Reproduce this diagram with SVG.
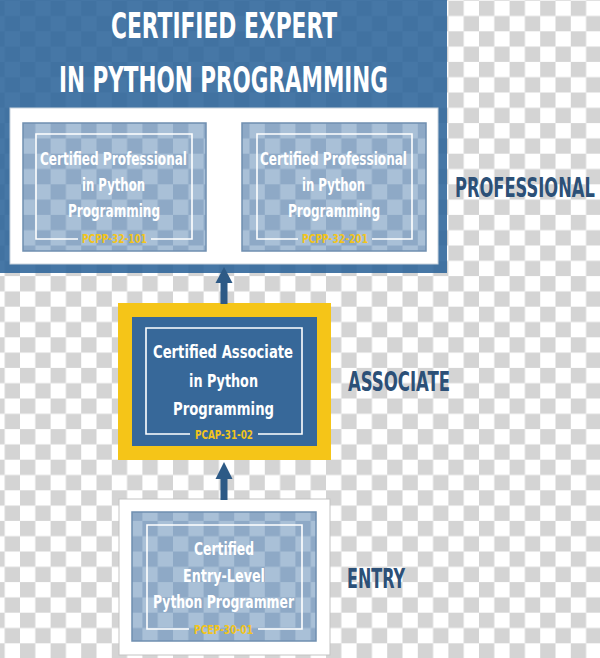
<svg xmlns="http://www.w3.org/2000/svg" width="600" height="658" viewBox="0 0 600 658">
<defs>
<pattern id="checker" x="20" y="0.7" width="30.6" height="30.6" patternUnits="userSpaceOnUse">
<rect width="30.6" height="30.6" fill="#ffffff"/>
<rect width="15.3" height="15.3" fill="#d4d4d4"/>
<rect x="15.3" y="15.3" width="15.3" height="15.3" fill="#d4d4d4"/>
</pattern>
<pattern id="cardchecker" x="20" y="0.7" width="30.6" height="30.6" patternUnits="userSpaceOnUse">
<rect width="30.6" height="30.6" fill="#a9c0d7"/>
<rect width="15.3" height="15.3" fill="#8ea9c6"/>
<rect x="15.3" y="15.3" width="15.3" height="15.3" fill="#8ea9c6"/>
</pattern>
<style>
text{font-family:"Liberation Sans Narrow","DejaVu Sans Condensed","Liberation Sans",sans-serif;font-weight:bold;font-stretch:condensed}
.title{fill:#ffffff;font-size:35px;text-anchor:middle}
.card{fill:url(#cardchecker);stroke:#6f8fb0;stroke-width:1.5}
.ctext{fill:#ffffff;font-size:18px;text-anchor:middle}
.code{fill:#f2c41c;font-size:13px;text-anchor:middle}
.outline{fill:none;stroke:#ffffff;stroke-width:1.6}
.level{fill:#2c5077;font-size:27px}
.arrow{fill:#2d5a86}
</style>
</defs>
<rect width="600" height="658" fill="url(#checker)"/>

<g id="node-expert">
<rect x="0" y="0" width="447" height="273" fill="#2c649a" fill-opacity="0.88"/>
<text class="title" x="224" y="38" textLength="226" lengthAdjust="spacingAndGlyphs">CERTIFIED EXPERT</text>
<text class="title" x="223.5" y="92" font-size="36" textLength="329" lengthAdjust="spacingAndGlyphs">IN PYTHON PROGRAMMING</text>
<rect x="10" y="108" width="428" height="156" fill="#ffffff" stroke="#c9d3dd" stroke-width="1"/>
</g>

<g id="node-pcpp-32-101">
<rect class="card" x="23" y="123" width="183" height="128"/>
<path class="outline" d="M78 239 H36 V134 H192 V239 H151"/>
<text class="ctext" x="113.5" y="165" textLength="147" lengthAdjust="spacingAndGlyphs">Certified Professional</text>
<text class="ctext" x="113.5" y="191" textLength="63" lengthAdjust="spacingAndGlyphs">in Python</text>
<text class="ctext" x="114" y="217" textLength="92" lengthAdjust="spacingAndGlyphs">Programming</text>
<text class="code" x="114.5" y="243" textLength="65" lengthAdjust="spacingAndGlyphs">PCPP-32-101</text>
</g>

<g id="node-pcpp-32-201">
<rect class="card" x="242" y="123" width="184" height="128"/>
<path class="outline" d="M298 239 H257 V134 H412 V239 H372"/>
<text class="ctext" x="333.5" y="165" textLength="147" lengthAdjust="spacingAndGlyphs">Certified Professional</text>
<text class="ctext" x="333.5" y="191" textLength="63" lengthAdjust="spacingAndGlyphs">in Python</text>
<text class="ctext" x="334" y="217" textLength="92" lengthAdjust="spacingAndGlyphs">Programming</text>
<text class="code" x="335" y="243" textLength="66" lengthAdjust="spacingAndGlyphs">PCPP-32-201</text>
</g>

<g id="node-pcap">
<rect x="118" y="303" width="213" height="157" fill="#f5c518"/>
<rect x="132" y="317" width="185" height="129" fill="#376899"/>
<path class="outline" d="M190 434 H146 V328 H302 V434 H258"/>
<text class="ctext" x="223" y="358" font-size="20" textLength="140" lengthAdjust="spacingAndGlyphs">Certified Associate</text>
<text class="ctext" x="223.5" y="387" font-size="20" textLength="69" lengthAdjust="spacingAndGlyphs">in Python</text>
<text class="ctext" x="223.5" y="415" font-size="20" textLength="101" lengthAdjust="spacingAndGlyphs">Programming</text>
<text class="code" x="224" y="439" font-size="14" textLength="58" lengthAdjust="spacingAndGlyphs">PCAP-31-02</text>
</g>

<g id="node-pcep">
<rect x="119" y="499" width="211" height="156" fill="#ffffff" stroke="#c4c4c4" stroke-width="1"/>
<rect class="card" x="132" y="512" width="184" height="129"/>
<path class="outline" d="M189 629 H147 V525 H302 V629 H258"/>
<text class="ctext" x="224" y="555" font-size="19" textLength="60" lengthAdjust="spacingAndGlyphs">Certified</text>
<text class="ctext" x="224" y="582" font-size="19" textLength="82" lengthAdjust="spacingAndGlyphs">Entry-Level</text>
<text class="ctext" x="223.5" y="608" font-size="19" textLength="141" lengthAdjust="spacingAndGlyphs">Python Programmer</text>
<text class="code" x="223.5" y="634" font-size="14" textLength="59" lengthAdjust="spacingAndGlyphs">PCEP-30-01</text>
</g>

<g id="labels">
<text class="level" transform="translate(455,197) scale(0.6,1)" x="0" y="0" textLength="233" lengthAdjust="spacingAndGlyphs">PROFESSIONAL</text>
<text class="level" x="348" y="391" font-size="25" textLength="102" lengthAdjust="spacingAndGlyphs">ASSOCIATE</text>
<text class="level" x="347" y="588" font-size="25" textLength="58" lengthAdjust="spacingAndGlyphs">ENTRY</text>
</g>

<g id="connectors">
<g id="pcap-to-pcpp">
<rect class="arrow" x="220.5" y="281" width="7" height="23"/>
<polygon class="arrow" points="224,267 232.5,283 215.5,283"/>
</g>
<g id="pcep-to-pcap">
<rect class="arrow" x="220.5" y="477" width="7" height="23"/>
<polygon class="arrow" points="224,462 232.5,479 215.5,479"/>
</g>
</g>
</svg>
